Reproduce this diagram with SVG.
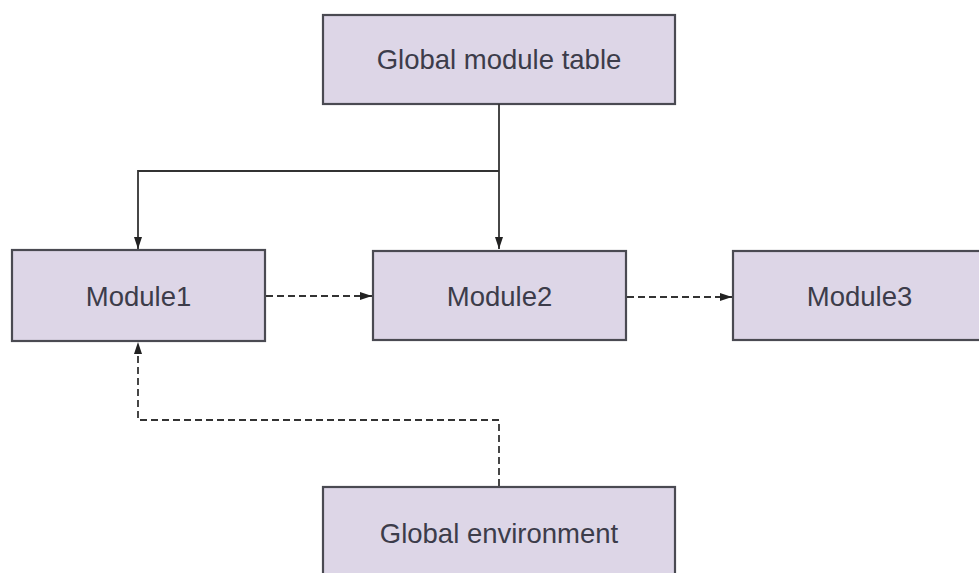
<svg xmlns="http://www.w3.org/2000/svg" width="979" height="573" viewBox="0 0 979 573">
<style>
.box{fill:#ddd6e7;stroke:#4a4a52;stroke-width:2.2}
.lbl{font-family:"Liberation Sans",Arial,sans-serif;font-size:27.5px;fill:#3c3c4a;text-anchor:middle}
.solid{fill:none;stroke:#333;stroke-width:1.8}
.dash{fill:none;stroke:#333;stroke-width:1.8;stroke-dasharray:7 4}
</style>
<defs>
<marker id="ah" viewBox="0 0 12 10" refX="12" refY="5" markerWidth="12" markerHeight="10" markerUnits="userSpaceOnUse" orient="auto">
<path d="M0,1 L12,5 L0,9 Z" fill="#222"/>
</marker>
</defs>
<rect width="979" height="573" fill="#fff"/>
<g id="global-module-table"><rect class="box" x="323" y="15" width="352" height="89"/><text class="lbl" x="499" y="69">Global module table</text></g>
<g id="module1"><rect class="box" x="12" y="250" width="253" height="91"/><text class="lbl" x="138.5" y="306">Module1</text></g>
<g id="module2"><rect class="box" x="373" y="251" width="253" height="89"/><text class="lbl" x="499.5" y="306">Module2</text></g>
<g id="module3"><rect class="box" x="733" y="251" width="253" height="89"/><text class="lbl" x="859.5" y="306">Module3</text></g>
<g id="global-environment"><rect class="box" x="323" y="487" width="352" height="92"/><text class="lbl" x="499" y="543">Global environment</text></g>
<g id="connectors">
<path class="solid" d="M499,104 V249" marker-end="url(#ah)"/>
<path class="solid" d="M499,171 H138 V249" marker-end="url(#ah)"/>
<path class="dash" d="M266,296 H372" marker-end="url(#ah)"/>
<path class="dash" d="M627,297 H732" marker-end="url(#ah)"/>
<path class="dash" d="M499,486 V420 H138 V342" marker-end="url(#ah)"/>
</g>
</svg>
